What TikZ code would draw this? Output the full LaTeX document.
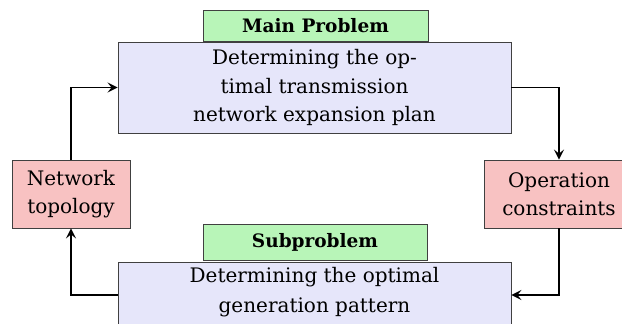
\documentclass[tikz,border=0pt]{standalone}
\usepackage{fontspec}
\setmainfont{DejaVu Serif}
\usetikzlibrary{arrows.meta}
\definecolor{bluefill}{HTML}{E6E6FA}
\definecolor{greenfill}{HTML}{B8F5B8}
\definecolor{redfill}{HTML}{F8C2C2}
\definecolor{edge}{HTML}{404040}
\tikzset{
  box/.style={draw=edge, line width=0.9pt, inner sep=0pt, align=center,
    font=\fontsize{20}{28.5}\selectfont},
  bluebox/.style={box, fill=bluefill},
  greenbox/.style={box, fill=greenfill, font=\fontsize{18.5}{28.5}\selectfont\bfseries},
  redbox/.style={box, fill=redfill},
  plain/.style={inner sep=0pt, align=center, font=\fontsize{20}{29.5}\selectfont},
  conn/.style={draw=black, line width=1.3pt, -{Stealth[length=10pt,width=10pt,inset=4pt]}},
}
\begin{document}
\begin{tikzpicture}[x=1pt,y=1pt]
\useasboundingbox (0,0) rectangle (622,324);
\node[bluebox, minimum width=393pt, minimum height=91pt] (mainblue) at (314.5,236.5)
  {\raisebox{-2pt}{\parbox{390pt}{\centering Determining the op-\\timal transmission\\network expansion plan}}};
\node[greenbox, minimum width=225pt, minimum height=31pt] (maingreen) at (315.5,298.5) {Main Problem};
\node[redbox, minimum width=118pt, minimum height=68pt] (net) at (71,130) {Network\\topology};
\node[redbox, minimum width=150pt, minimum height=68pt] (op) at (559,130) {Operation\\constraints};
\node[greenbox, minimum width=224pt, minimum height=36pt] (subgreen) at (315,82) {Subproblem};
\node[bluebox, minimum width=393pt, minimum height=66pt] (subblue) at (314.5,29) {};
\node[plain] (subtext) at (314.5,32) {Determining the optimal\\generation pattern};
\draw[conn] (net.north) |- (mainblue.west);
\draw[conn] (mainblue.east) -| (op.north);
\draw[conn] (op.south) |- (subblue.east);
\draw[conn] (subblue.west) -| (net.south);
\end{tikzpicture}
\end{document}
